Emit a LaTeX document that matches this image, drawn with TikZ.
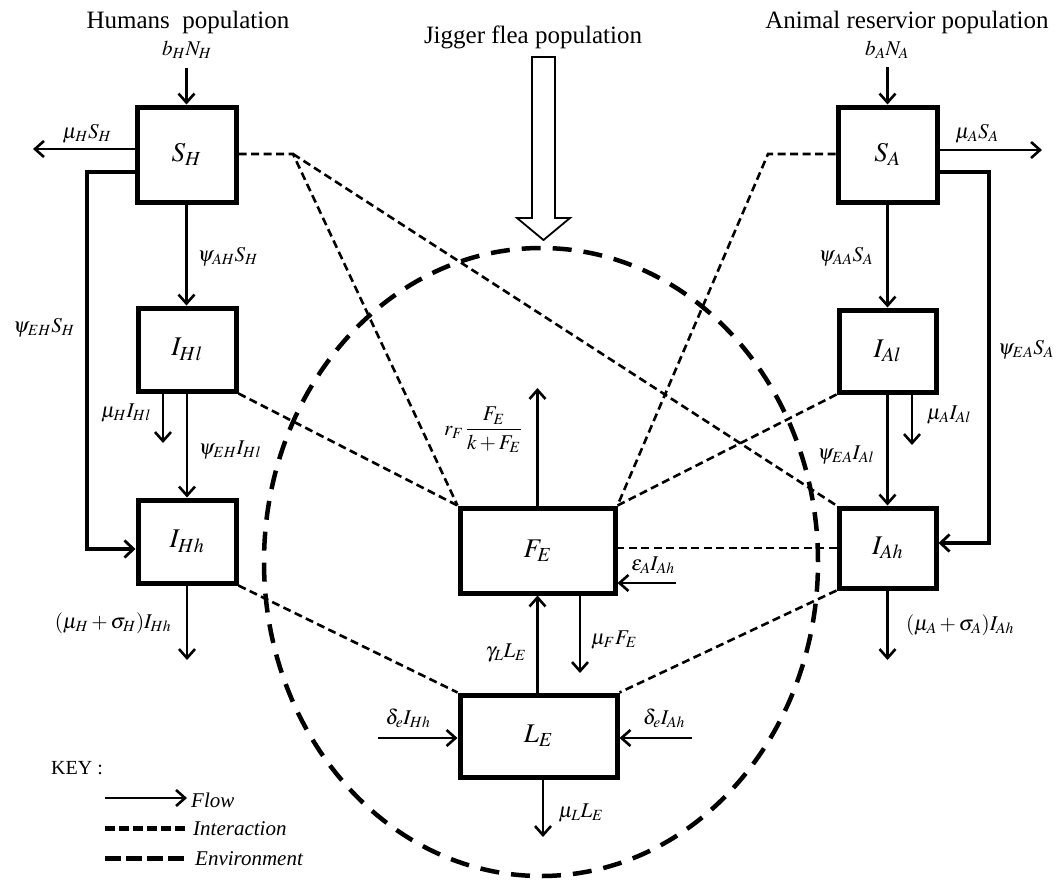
\documentclass[tikz,border=0pt]{standalone}
\usepackage{mathptmx}
\usepackage{fontspec}
\setmainfont{Liberation Serif}
\usetikzlibrary{arrows.meta}
\tikzset{
  box/.style={draw, line width=5pt, inner sep=0pt, fill=white, font=\fontsize{27}{30}\selectfont},
  flow/.style={line width=2.6pt, -{Straight Barb[length=9pt,width=16pt,line width=2.6pt]}},
  heavyflow/.style={line width=4.5pt, -{Straight Barb[length=9pt,width=17pt,line width=2.8pt]}},
  inter/.style={line width=2.6pt, dash pattern=on 8pt off 4.5pt},
  env/.style={line width=4.5pt, dash pattern=on 19pt off 12pt},
  keyinter/.style={line width=5pt, dash pattern=on 10pt off 4pt},
  keyenv/.style={line width=5pt, dash pattern=on 16pt off 5pt},
  lbl/.style={font=\fontsize{21}{24}\selectfont, inner sep=1pt},
  ttl/.style={font=\fontsize{25}{29}\selectfont, inner sep=1pt},
  keytxt/.style={font=\fontsize{21}{24}\selectfont\itshape, inner sep=1pt, anchor=west},
}
\begin{document}
\begin{tikzpicture}[x=1pt,y=-1pt]
\useasboundingbox (0,0) rectangle (1061,879);

% environment
\draw[env] (541,562) ellipse [x radius=277pt, y radius=314pt];

% titles
\node[ttl] (tH) at (188,22) {Humans\ \ population};
\node[ttl] (tF) at (533,37) {Jigger flea population};
\node[ttl] (tA) at (907,22) {Animal reservior population};

% hollow arrow
\draw[line width=1.8pt, fill=white] (532,57) -- (555,57) -- (555,218) -- (570,218) -- (543.5,240) -- (517,218) -- (532,218) -- cycle;

% boxes
\node[box, minimum width=99pt, minimum height=95pt] (SH) at (186.5,154.5) {$S_H$};
\node[box, minimum width=98pt, minimum height=83pt] (IHl) at (187,349.5) {$I_{Hl}$};
\node[box, minimum width=98pt, minimum height=83pt] (IHh) at (187,541.5) {$I_{Hh}$};
\node[box, minimum width=99pt, minimum height=95pt] (SA) at (887.5,154.5) {$S_A$};
\node[box, minimum width=97pt, minimum height=82pt] (IAl) at (887.5,351) {$I_{Al}$};
\node[box, minimum width=97pt, minimum height=80pt] (IAh) at (887.5,548) {$I_{Ah}$};
\node[box, minimum width=155pt, minimum height=85pt] (FE) at (537.5,550.5) {$F_E$};
\node[box, minimum width=157pt, minimum height=82pt] (LE) at (538.5,736) {$L_E$};

% interaction lines
\coordinate (dH) at (293,154);
\coordinate (dA) at (768,154);
\draw[inter] (SH.east |- dH) -- (dH) -- (FE.north west);
\draw[inter] (dH) -- (IAh.north west);
\draw[inter] (IHl.south east) -- (FE.north west);
\draw[inter] (IHh.south east) -- (LE.north west);
\draw[inter] (SA.west |- dA) -- (dA) -- (FE.north east);
\draw[inter] (IAl.south west) -- (FE.north east);
\draw[inter] (IAh.west) -- (FE.east |- IAh.west);
\draw[inter] (IAh.south west) -- (LE.north east);

% human side flows
\node[lbl] (lbH) at (187,50) {$b_H N_H$};
\coordinate (bHs) at (186.5,68);
\draw[flow] (bHs) -- (SH.north);
\coordinate (muHSe) at (33,149);
\draw[flow] (SH.west |- muHSe) -- (muHSe);
\node[lbl] (lmuHS) at (87,134) {$\mu_H S_H$};
\coordinate (fH1) at (87,172);
\coordinate (fH2) at (87,549);
\draw[heavyflow] (SH.west |- fH1) -- (fH1) -- (fH2) -- (IHh.west |- fH2);
\node[lbl] (lpsiEHS) at (44,328) {$\psi_{EH} S_H$};
\draw[flow] (SH.south) -- (SH.south |- IHl.north);
\node[lbl] (lpsiAHS) at (228,257) {$\psi_{AH} S_H$};
\coordinate (muHIe) at (163,443);
\draw[flow] (IHl.south -| muHIe) -- (muHIe);
\node[lbl] (lmuHI) at (126,413) {$\mu_H I_{Hl}$};
\draw[flow] (IHl.south) -- (IHl.south |- IHh.north);
\node[lbl] (lpsiEHI) at (230,450) {$\psi_{EH} I_{Hl}$};
\coordinate (IHhe) at (187,660);
\draw[flow] (IHh.south) -- (IHh.south |- IHhe);
\node[lbl] (lmuHh) at (113,623) {$(\mu_H+\sigma_H)I_{Hh}$};

% animal side flows
\node[lbl] (lbA) at (887,50) {$b_A N_A$};
\coordinate (bAs) at (887.5,67);
\draw[flow] (bAs) -- (SA.north);
\coordinate (muASe) at (1042,150);
\draw[flow] (SA.east |- muASe) -- (muASe);
\node[lbl] (lmuAS) at (977,134) {$\mu_A S_A$};
\coordinate (fA1) at (989,172);
\coordinate (fA2) at (989,543);
\draw[heavyflow] (SA.east |- fA1) -- (fA1) -- (fA2) -- (IAh.east |- fA2);
\node[lbl] (lpsiEAS) at (1026,350) {$\psi_{EA} S_A$};
\draw[flow] (SA.south) -- (SA.south |- IAl.north);
\node[lbl] (lpsiAAS) at (846,257) {$\psi_{AA} S_A$};
\coordinate (muAIe) at (912,445);
\draw[flow] (IAl.south -| muAIe) -- (muAIe);
\node[lbl] (lmuAI) at (949,415) {$\mu_A I_{Al}$};
\draw[flow] (IAl.south) -- (IAl.south |- IAh.north);
\node[lbl] (lpsiEAI) at (846,455) {$\psi_{EA} I_{Al}$};
\coordinate (IAhe) at (887.5,660);
\draw[flow] (IAh.south) -- (IAh.south |- IAhe);
\node[lbl] (lmuAh) at (960,625) {$(\mu_A+\sigma_A)I_{Ah}$};

% flea flows
\coordinate (rFe) at (537.5,388);
\draw[flow] (FE.north) -- (rFe);
\node[lbl] (lrF) at (483,430) {$r_F\,{\displaystyle\frac{F_E}{k+F_E}}$};
\coordinate (epsS) at (676,583);
\draw[flow] (epsS) -- (FE.east |- epsS);
\node[lbl] (leps) at (653,565) {$\varepsilon_A I_{Ah}$};
\draw[flow] (LE.north -| FE.south) -- (FE.south);
\node[lbl] (lgam) at (506,653) {$\gamma_L L_E$};
\coordinate (muFe) at (580,673);
\draw[flow] (FE.south -| muFe) -- (muFe);
\node[lbl] (lmuF) at (614,640) {$\mu_F F_E$};
\coordinate (dHs) at (378,738);
\draw[flow] (dHs) -- (LE.west |- dHs);
\node[lbl] (ldH) at (408,718) {$\delta_e I_{Hh}$};
\coordinate (dAs) at (692,738);
\draw[flow] (dAs) -- (LE.east |- dAs);
\node[lbl] (ldA) at (664,718) {$\delta_e I_{Ah}$};
\coordinate (muLe) at (543,837);
\draw[flow] (LE.south -| muLe) -- (muLe);
\node[lbl] (lmuL) at (581,813) {$\mu_L L_E$};

% key
\node[font=\fontsize{20}{22}\selectfont, anchor=west, inner sep=1pt] (key) at (50,768) {KEY :};
\coordinate (k1a) at (105,798);
\coordinate (k1b) at (187,798);
\draw[flow] (k1a) -- (k1b);
\node[keytxt] (kflow) at (190,800) {Flow};
\coordinate (k2a) at (105,828);
\coordinate (k2b) at (187,828);
\draw[keyinter] (k2a) -- (k2b);
\node[keytxt] (kint) at (192,829) {Interaction};
\coordinate (k3a) at (105,858);
\coordinate (k3b) at (187,858);
\draw[keyenv] (k3a) -- (k3b);
\node[keytxt] (kenv) at (194,859) {Environment};
\end{tikzpicture}
\end{document}
